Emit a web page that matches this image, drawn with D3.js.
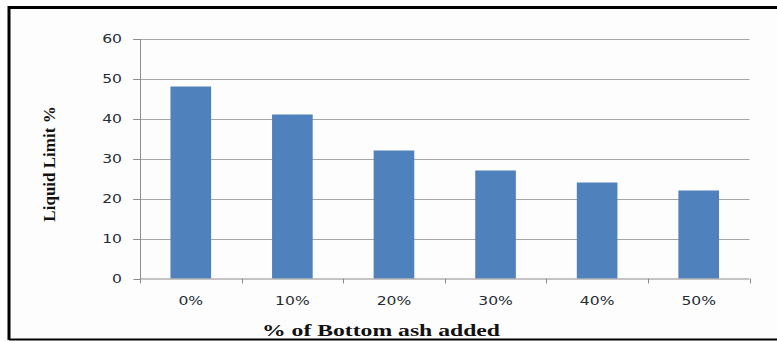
<!DOCTYPE html>
<html><head><meta charset="utf-8">
<script src="https://cdn.jsdelivr.net/npm/d3@7"></script>
<style>body{margin:0;background:#fff}svg{display:block}</style>
</head><body>
<svg id="c" width="777" height="341"></svg>
<script>
const categories = ["0%","10%","20%","30%","40%","50%"];
const values = [48,41,32,27,24,22];
const yTicks = [0,10,20,30,40,50,60];
const xTitle = "% of Bottom ash added";
const yTitle = "Liquid Limit %";

const svg = d3.select("#c");
const W = 777, H = 341;
const SX = 1.3; // horizontal stretch of the original image
const tickFont = "Verdana, 'DejaVu Sans', sans-serif";
const titleFont = "'Liberation Serif', 'Times New Roman', serif";

svg.append("rect").attr("x",0).attr("y",0).attr("width",W).attr("height",H).attr("fill","#fdfdfd");
// border
svg.append("line").attr("x1",9).attr("x2",W).attr("y1",7.5).attr("y2",7.5).attr("stroke","#000").attr("stroke-width",3);
svg.append("line").attr("x1",9).attr("x2",9).attr("y1",6).attr("y2",340).attr("stroke","#000").attr("stroke-width",3);
svg.append("line").attr("x1",9).attr("x2",W).attr("y1",339.5).attr("y2",339.5).attr("stroke","#000").attr("stroke-width",2);

const L = 140, R = 749.5, T = 38.5, B = 278.5;
const x = d3.scaleBand().domain(categories).range([L,R]).paddingInner(0.6).paddingOuter(0.3);
const y = d3.scaleLinear().domain([0,60]).range([B,T]);

// gridlines
svg.append("g").selectAll("line").data(yTicks.filter(d=>d>0)).join("line")
  .attr("x1",L-7).attr("x2",R).attr("y1",d=>Math.round(y(d))+0.5).attr("y2",d=>Math.round(y(d))+0.5)
  .attr("stroke","#a6a6a6").attr("stroke-width",1);

// bars
svg.append("g").selectAll("rect").data(values).join("rect")
  .attr("x",(d,i)=>x(categories[i])).attr("width",x.bandwidth())
  .attr("y",d=>y(d)).attr("height",d=>B-y(d)).attr("fill","#4f81bd");

// y axis
const yAxis = d3.axisLeft(y).tickValues(yTicks).tickSize(7).tickFormat("");
const gy = svg.append("g").attr("transform",`translate(${L+0.5},0.5)`).call(yAxis);
gy.select(".domain").attr("stroke","#8c8c8c").attr("d",`M0,${T}V${B}`);
gy.selectAll(".tick line").attr("stroke","#8c8c8c");
svg.append("g").selectAll("text").data(yTicks).join("text")
  .attr("transform",d=>`translate(122,${y(d)+4.5}) scale(${SX},1)`)
  .attr("text-anchor","end").attr("font-family",tickFont).attr("font-size",12).attr("fill","#262b33")
  .text(d=>d3.format("d")(d));

// x axis
const step = (R-L)/categories.length;
const bounds = d3.range(categories.length+1).map(i=>L+i*step);
const gx = svg.append("g");
gx.append("line").attr("x1",L).attr("x2",R).attr("y1",B+0.5).attr("y2",B+0.5).attr("stroke","#8c8c8c");
gx.selectAll(".bt").data(bounds).join("line").attr("class","bt")
  .attr("x1",d=>Math.round(d)+0.5).attr("x2",d=>Math.round(d)+0.5).attr("y1",B).attr("y2",B+5).attr("stroke","#8c8c8c");
gx.selectAll("text").data(categories).join("text")
  .attr("transform",d=>`translate(${x(d)+x.bandwidth()/2},305) scale(${SX},1)`).attr("text-anchor","middle")
  .attr("font-family",tickFont).attr("font-size",12).attr("fill","#262b33").text(d=>d);

// titles
svg.append("text").attr("x",381).attr("y",336).attr("text-anchor","middle")
  .attr("textLength",238).attr("lengthAdjust","spacingAndGlyphs")
  .attr("font-family",titleFont).attr("font-weight","bold").attr("font-size",17)
  .attr("fill","#111").text(xTitle);
svg.append("text").attr("transform","translate(55,164) rotate(-90)").attr("text-anchor","middle")
  .attr("font-family",titleFont).attr("font-weight","bold").attr("font-size",17)
  .attr("fill","#111").text(yTitle);
</script>
</body></html>
